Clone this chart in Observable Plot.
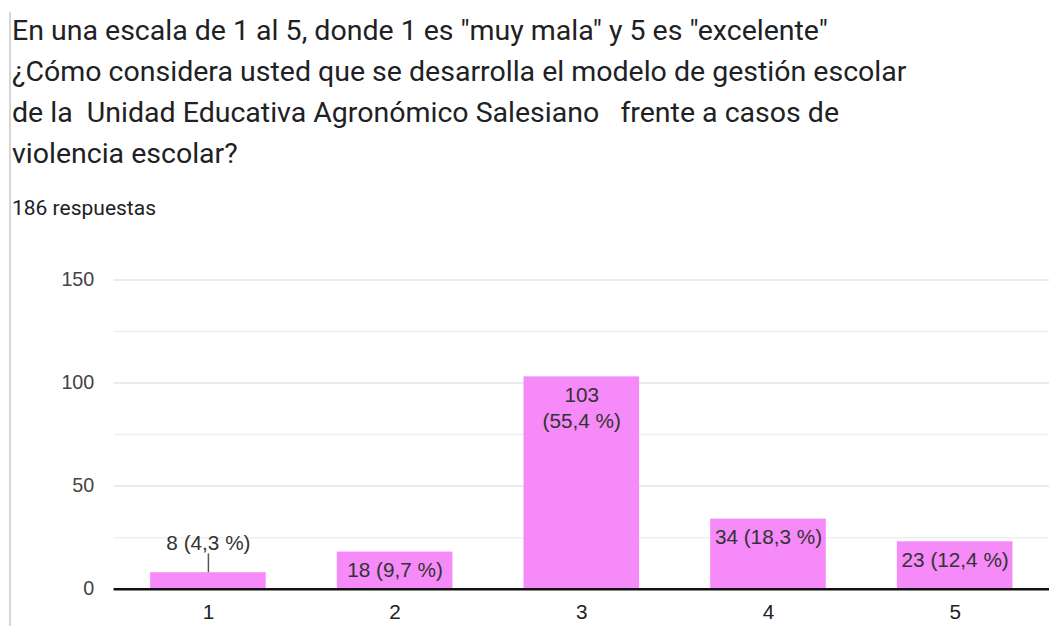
<!DOCTYPE html>
<html>
<head>
<meta charset="utf-8">
<script src="https://cdn.jsdelivr.net/npm/d3@7"></script>
<script src="https://cdn.jsdelivr.net/npm/@observablehq/plot@0.6"></script>
<style>
  html, body { margin: 0; padding: 0; background: #fff; overflow: hidden; width: 1049px; height: 626px; }
  #page { position: relative; width: 1049px; height: 626px; overflow: hidden; }
  #border { position: absolute; left: 9px; top: 12px; width: 2px; height: 614px; background: #d6d6d6; }
  .title { position: absolute; left: 12px; font-family: Roboto, "Noto Sans", sans-serif; font-size: 28.5px; line-height: 41px; color: #202124; white-space: pre; }
  #subtitle { position: absolute; left: 12px; top: 196px; font-family: Roboto, "Noto Sans", sans-serif; font-size: 21px; line-height: 24px; color: #202124; white-space: pre; }
  #chart { position: absolute; left: 0; top: 240px; }
</style>
</head>
<body>
<div id="page">
  <div id="border"></div>
  <div class="title" id="title" style="top:10px"></div>
  <div id="subtitle"></div>
  <div id="chart"></div>
</div>
<script>
const titleLines = [
  "En una escala de 1 al 5, donde 1 es \"muy mala\" y 5 es \"excelente\"",
  "¿Cómo considera usted que se desarrolla el modelo de gestión escolar",
  "de la  Unidad Educativa Agronómico Salesiano   frente a casos de",
  "violencia escolar?"
];
const subtitleText = "186 respuestas";

const categories = ["1", "2", "3", "4", "5"];
const counts = [8, 18, 103, 34, 23];
const percents = ["4,3 %", "9,7 %", "55,4 %", "18,3 %", "12,4 %"];
const labels = ["8 (4,3 %)", "18 (9,7 %)", "103\n(55,4 %)", "34 (18,3 %)", "23 (12,4 %)"];
const yTicks = [0, 50, 100, 150];
const yMinor = [25, 75, 125];

document.getElementById("title").textContent = titleLines.join("\n");
document.getElementById("subtitle").textContent = subtitleText;

const data = categories.map((c, i) => ({cat: c, count: counts[i], pct: percents[i], label: labels[i]}));
const outside = data.filter(d => d.count < 10);
const inside = data.filter(d => d.count >= 10);

const barColor = "#f58af8";

const chart = Plot.plot({
  width: 1062,
  height: 398,
  marginLeft: 115,
  marginRight: 0,
  marginTop: 40,
  marginBottom: 45,
  style: {fontFamily: "'Liberation Sans', Arial, sans-serif", background: "transparent"},
  x: {domain: categories, paddingInner: 0.38, paddingOuter: 0.19, label: null},
  y: {domain: [0, 150], label: null},
  marks: [
    Plot.ruleY(yMinor, {stroke: "#efefef", strokeWidth: 1.5}),
    Plot.ruleY(yTicks.filter(t => t > 0), {stroke: "#e3e3e3", strokeWidth: 1.5}),
    Plot.ruleX([0], {x: () => null, stroke: "#ececec", strokeWidth: 1}),
    Plot.barY(data, {x: "cat", y: "count", fill: barColor}),
    Plot.ruleY([0], {stroke: "#111", strokeWidth: 2.5}),
    Plot.ruleX(outside, {x: "cat", y1: "count", y2: "count", insetBottom: 19, stroke: "#555", strokeWidth: 1.5}),
    Plot.text(outside, {x: "cat", y: "count", text: "label", dy: -30, lineAnchor: "middle", fontSize: 21, fill: "#333"}),
    Plot.text(inside, {x: "cat", y: "count", text: "label", dy: 7, lineAnchor: "top", lineHeight: 1.25, fontSize: 21, fill: "#333"}),
    Plot.axisY({ticks: yTicks, tickSize: 0, tickPadding: 20, fontSize: 20, fill: "#444", label: null}),
    Plot.axisX({tickSize: 0, tickPadding: 15, fontSize: 21, fill: "#222", label: null})
  ]
});
document.getElementById("chart").appendChild(chart);
</script>
</body>
</html>
